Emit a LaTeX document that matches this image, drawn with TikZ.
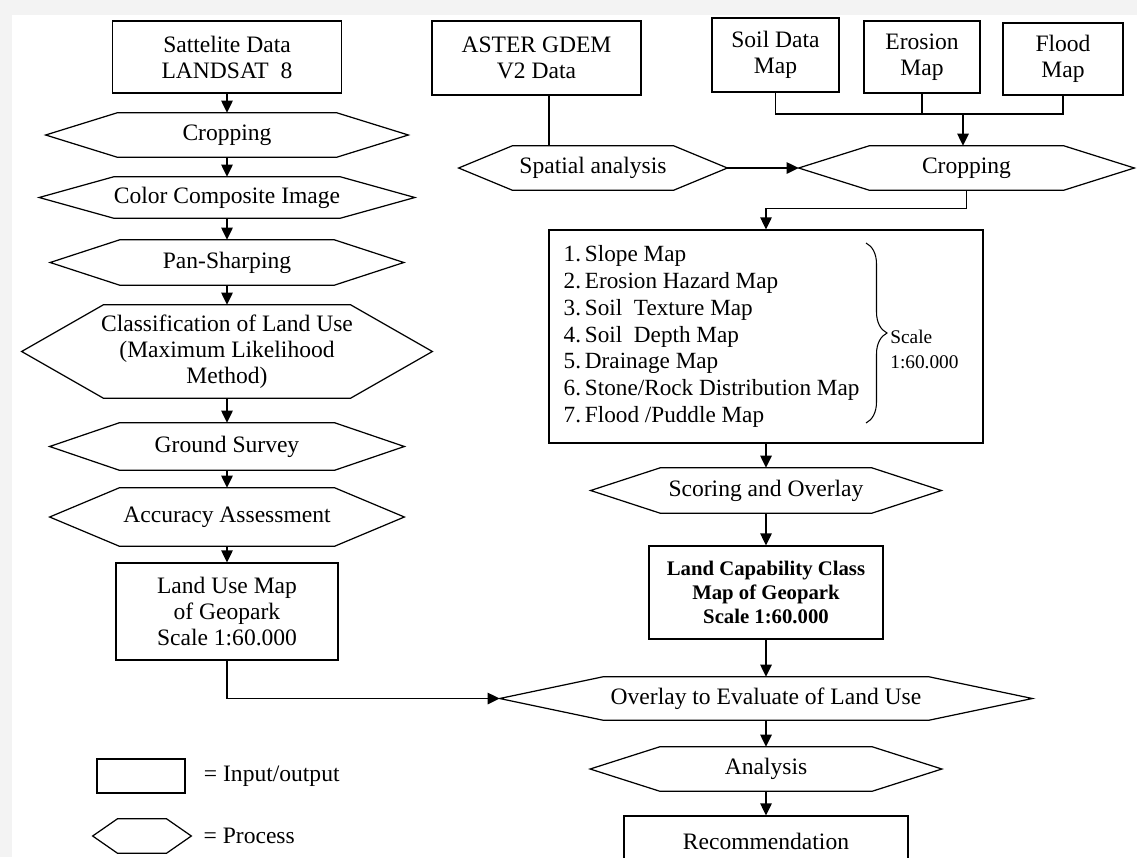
\documentclass[tikz,border=0pt]{standalone}
\usepackage{fontspec}
\setmainfont{Liberation Serif}
\usepackage{tikz}
\usetikzlibrary{arrows.meta,positioning,decorations.pathreplacing}
\usepackage{xcolor}
\definecolor{paperedge}{RGB}{243,243,243}
\newcommand{\flowfont}{\fontsize{13.4}{14.8}\selectfont}
\newcommand{\drawhex}[2]{%
  \draw[line width=0.7pt] (#1.west) -- ([xshift=#2]#1.north west)
    -- ([xshift=-#2]#1.north east) -- (#1.east)
    -- ([xshift=-#2]#1.south east) -- ([xshift=#2]#1.south west) -- cycle;}

\begin{document}
\begin{tikzpicture}[
    io/.style={rectangle, draw, line width=0.7pt, inner sep=0pt,
               align=center, font=\flowfont},
    proc/.style={rectangle, inner sep=0pt, align=center, font=\flowfont},
    arr/.style={-{Triangle[length=0.24cm,width=0.23cm]}, line width=0.7pt},
    link/.style={line width=0.7pt}
]
\useasboundingbox (0,0) rectangle (22.74,-17.14);
\clip (0,0) rectangle (22.74,-17.14);
\fill[paperedge] (0,0) rectangle (22.74,-17.14);
\fill[white] (0.24,-0.30) rectangle (22.74,-17.14);

% Left column
\node[io, minimum width=4.58cm, minimum height=1.44cm] (sat) at (4.54,-1.14)
    {Sattelite Data\\LANDSAT\ \ 8};
\node[proc, minimum width=7.24cm, minimum height=0.88cm] (crop) at (4.54,-2.70) {Cropping};
\node[proc, minimum width=7.50cm, minimum height=0.82cm] (colcomp) at (4.54,-3.95) {Color Composite Image};
\node[proc, minimum width=7.06cm, minimum height=0.90cm] (pansharp) at (4.54,-5.25) {Pan-Sharping};
\node[proc, minimum width=8.20cm, minimum height=1.86cm] (classif) at (4.54,-7.03)
    {Classification of Land Use\\(Maximum Likelihood\\Method)};
\node[proc, minimum width=7.08cm, minimum height=0.94cm] (survey) at (4.54,-8.93) {Ground Survey};
\node[proc, minimum width=7.08cm, minimum height=1.16cm] (accuracy) at (4.54,-10.34) {Accuracy Assessment};
\node[io, minimum width=4.44cm, minimum height=1.94cm] (landuse) at (4.54,-12.23)
    {Land Use Map\\of Geopark\\Scale 1:60.000};

\drawhex{crop}{1.44cm}
\drawhex{colcomp}{1.50cm}
\drawhex{pansharp}{1.40cm}
\drawhex{classif}{1.64cm}
\drawhex{survey}{1.40cm}
\drawhex{accuracy}{1.40cm}

\draw[arr] (sat.south) -- (crop.north);
\draw[arr] (crop.south) -- (colcomp.north);
\draw[arr] (colcomp.south) -- (pansharp.north);
\draw[arr] (pansharp.south) -- (classif.north);
\draw[arr] (classif.south) -- (survey.north);
\draw[arr] (survey.south) -- (accuracy.north);
\draw[arr] (accuracy.south) -- (landuse.north);

% Input maps
\node[io, minimum width=4.18cm, minimum height=1.48cm] (aster) at (10.73,-1.16) {ASTER GDEM\\V2 Data};
\node[io, minimum width=2.54cm, minimum height=1.48cm] (soil) at (15.51,-1.10) {Soil Data\\Map};
\node[io, minimum width=2.32cm, minimum height=1.44cm] (erosion) at (18.44,-1.14) {Erosion\\Map};
\node[io, minimum width=2.40cm, minimum height=1.44cm] (flood) at (21.26,-1.18) {Flood\\Map};

\node[proc, minimum width=5.36cm, minimum height=0.88cm] (spatial) at (11.86,-3.36) {Spatial analysis};
\node[proc, minimum width=6.70cm, minimum height=0.88cm] (cropmap) at (19.33,-3.36) {Cropping};
\drawhex{spatial}{1.08cm}
\drawhex{cropmap}{1.42cm}

\coordinate (astdrop) at ([xshift=0.25cm]aster.south);
\draw[link] (astdrop) -- (astdrop |- spatial.north);
\draw[arr] (spatial.east) -- (cropmap.west);

\coordinate (mapjoin) at (19.26,-2.28);
\draw[link] (soil.south) -- (soil.south |- mapjoin) -- (flood.south |- mapjoin) -- (flood.south);
\draw[link] (erosion.south) -- (erosion.south |- mapjoin);
\draw[arr] (mapjoin) -- (mapjoin |- cropmap.north);

% Right column
\node[io, minimum width=8.68cm, minimum height=4.26cm] (maplist) at (15.32,-6.73) {};
\node[anchor=west, align=left, inner sep=0pt, font=\fontsize{13.2}{15.2}\selectfont]
    (mapitems) at ([xshift=0.30cm]maplist.west)
    {1.\,Slope Map\\2.\,Erosion Hazard Map\\3.\,Soil\ \ Texture Map\\4.\,Soil\ \ Depth Map\\
     5.\,Drainage Map\\6.\,Stone/Rock Distribution Map\\7.\,Flood\ /Puddle Map};
\coordinate (bracetop) at (17.32,-4.86);
\coordinate (bracebot) at (17.32,-8.46);
\draw[decorate, decoration={brace, amplitude=0.42cm}, line width=0.6pt] (bracetop) -- (bracebot);
\node[anchor=west, align=left, inner sep=0pt, font=\fontsize{11}{14.2}\selectfont]
    (listscale) at (17.80,-6.98) {Scale\\1:60.000};

\node[proc, minimum width=7.00cm, minimum height=0.90cm] (scoring) at (15.32,-9.81) {Scoring and Overlay};
\node[io, minimum width=4.68cm, minimum height=1.86cm, font=\fontsize{11.8}{13.7}\selectfont\bfseries]
    (landcap) at (15.32,-11.85) {Land Capability Class\\Map of Geopark\\Scale 1:60.000};
\node[proc, minimum width=10.64cm, minimum height=0.86cm] (overlay) at (15.32,-13.97)
    {Overlay to Evaluate of Land Use};
\node[proc, minimum width=7.02cm, minimum height=0.88cm] (analysis) at (15.32,-15.38) {Analysis};
\node[io, minimum width=5.68cm, minimum height=1.00cm] (recom) at (15.32,-16.82) {Recommendation};
\drawhex{scoring}{1.40cm}
\drawhex{overlay}{2.08cm}
\drawhex{analysis}{1.40cm}

\draw[arr] (cropmap.south) -- ++(0,-0.36) -| (maplist.north);
\draw[arr] (maplist.south) -- (scoring.north);
\draw[arr] (scoring.south) -- (landcap.north);
\draw[arr] (landcap.south) -- (overlay.north);
\draw[arr] (overlay.south) -- (analysis.north);
\draw[arr] (analysis.south) -- (recom.north);
\draw[arr] (landuse.south) |- (overlay.west);

% Legend
\node[io, minimum width=1.76cm, minimum height=0.68cm] (legio) at (2.82,-15.52) {};
\node[inner sep=0pt, font=\flowfont, right=0.36cm of legio] (legiotext) {= Input/output};
\node[proc, minimum width=1.96cm, minimum height=0.68cm] (legproc) at (2.84,-16.72) {};
\drawhex{legproc}{0.50cm}
\node[inner sep=0pt, font=\flowfont, right=0.24cm of legproc] (legproctext) {= Process};

\end{tikzpicture}
\end{document}
